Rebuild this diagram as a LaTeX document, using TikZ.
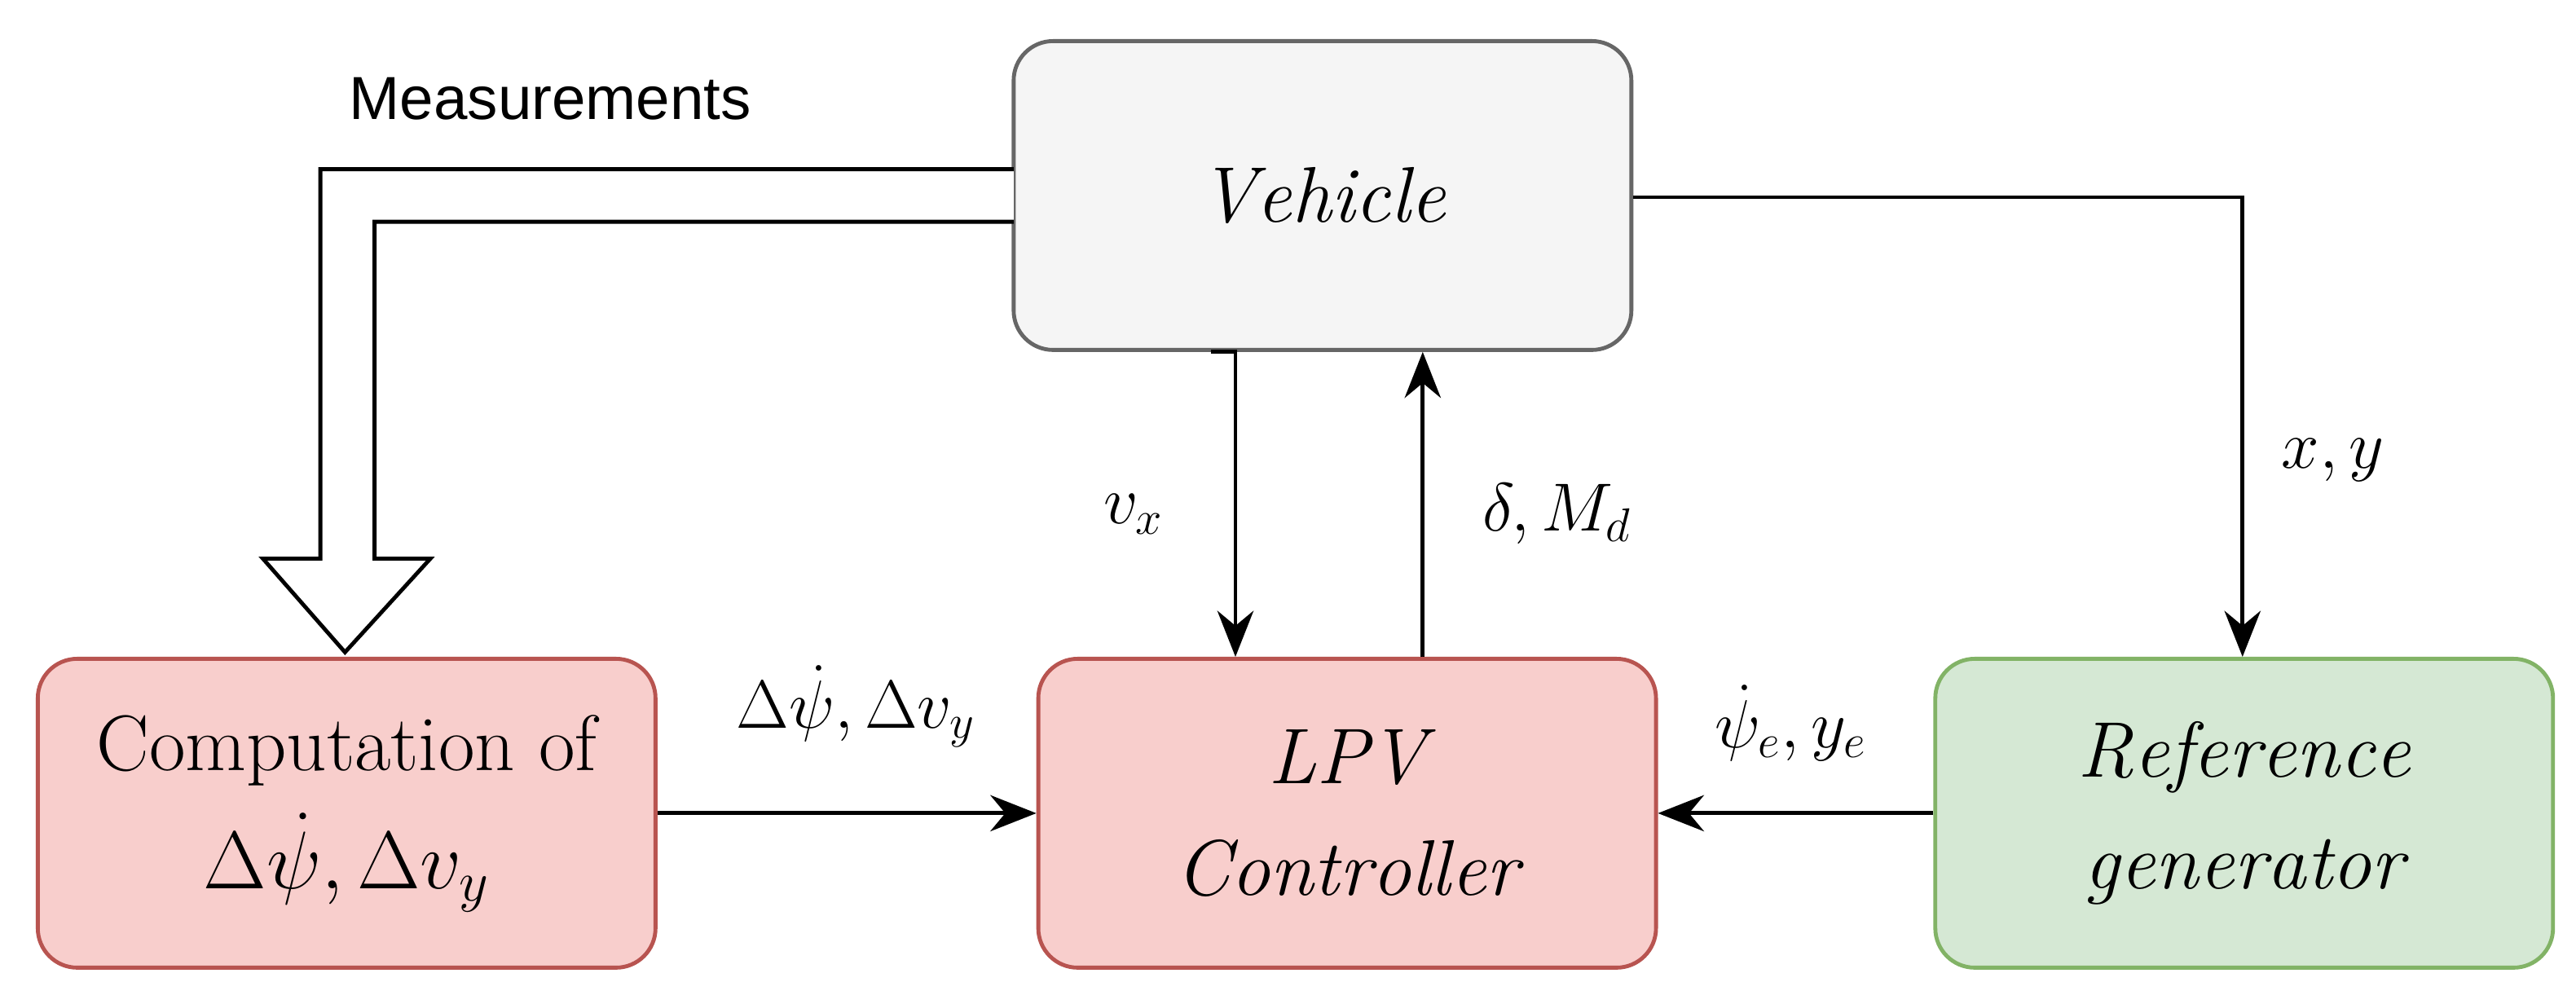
\documentclass[tikz,border=0pt]{standalone}
\usepackage{fontspec}
\newfontfamily\sans{Liberation Sans}
\usetikzlibrary{arrows.meta}
\definecolor{rfill}{HTML}{F8CECC}\definecolor{rdraw}{HTML}{B85450}
\definecolor{gfill}{HTML}{D5E8D4}\definecolor{gdraw}{HTML}{82B366}
\definecolor{vfill}{HTML}{F5F5F5}\definecolor{vdraw}{HTML}{666666}
\begin{document}
\begin{tikzpicture}[x=0.5pt,y=-0.5pt,
 box/.style={rounded corners=12pt,line width=1.2pt,minimum width=188pt,minimum height=94pt,align=center,font=\fontsize{24}{34}\selectfont},
 conn/.style={line width=1.2pt,-{Stealth[length=14pt,width=11pt]}},
 lab/.style={font=\fontsize{22.5}{26}\selectfont}]
\useasboundingbox (0,0) rectangle (1568,611);
\node[box,fill=vfill,draw=vdraw] (veh) at (805,119) {$\mathit{Vehicle}$};
\node[box,fill=rfill,draw=rdraw] (comp) at (211,495) {Computation of\\[2pt]$\Delta\dot\psi,\Delta v_y$};
\node[box,fill=rfill,draw=rdraw] (lpv) at (820,495) {$\mathit{LPV}$\\$\mathit{Controller}$};
\node[box,fill=gfill,draw=gdraw] (ref) at (1366,495) {$\mathit{Reference}$\\$\mathit{generator}$};
\draw[line width=1.2pt,fill=white] (617,103)--(195,103)--(195,340)--(160,340)--(210,397)--(262,340)--(228,340)--(228,135)--(617,135);
\node[font=\sans\fontsize{18.5}{20}\selectfont] (meas) at (335,60) {Measurements};
\coordinate (vxs) at (752,213);
\draw[line width=1.2pt] (737,214)--(752,214);
\draw[conn] (vxs)--(lpv.north -| vxs);
\coordinate (ds) at (866,215);
\draw[conn] (lpv.north -| ds)--(veh.south -| ds);
\coordinate (xy) at (1365,120);
\draw[conn] (veh.east |- xy)--(xy)--(ref.north -| xy);
\draw[conn] (comp.east)--(lpv.west);
\draw[conn] (ref.west)--(lpv.east);
\node[lab] (lvx) at (690,313) {$v_x$};
\node[lab] (ld) at (948,313) {$\delta, M_d$};
\node[lab] (lxy) at (1420,280) {$x, y$};
\node[lab] (lc) at (521,430) {$\Delta\dot\psi, \Delta v_y$};
\node[lab] (le) at (1090,440) {$\dot\psi_e, y_e$};
\end{tikzpicture}
\end{document}
